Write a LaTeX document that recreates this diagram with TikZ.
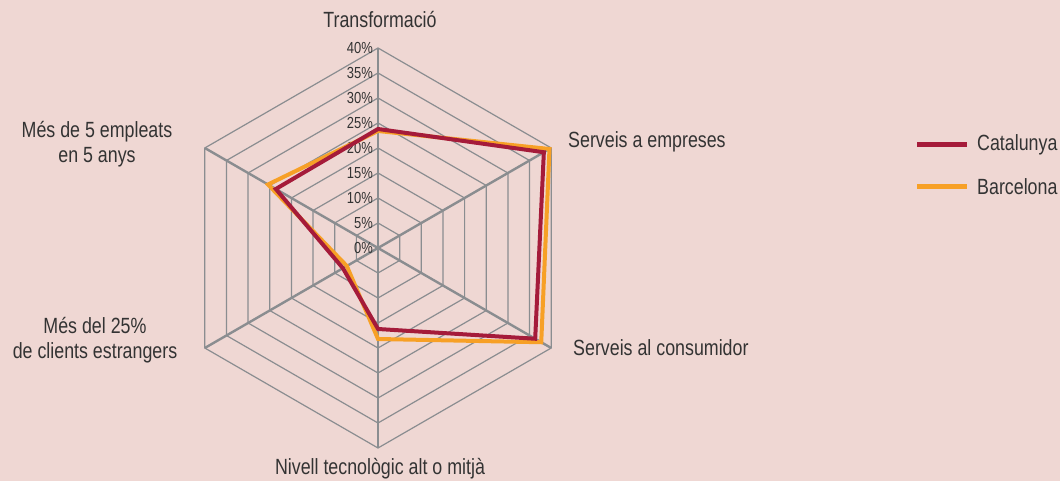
\documentclass[tikz,border=0pt]{standalone}
\usepackage{fontspec}
\setmainfont{Liberation Sans}[FakeStretch=0.81]
\usepackage{tikz}
\usetikzlibrary{positioning}
\definecolor{bgpink}{RGB}{239,215,211}
\definecolor{gridgray}{RGB}{138,141,144}
\definecolor{txtgray}{RGB}{51,51,51}
\definecolor{catred}{RGB}{165,27,58}
\definecolor{bcnorange}{RGB}{247,160,38}

\begin{document}
\begin{tikzpicture}[x=1pt,y=1pt]
      \tikzstyle{lbl}=[font=\fontsize{22}{25}\selectfont,text=txtgray,inner sep=0pt,align=center]
      \tikzstyle{pct}=[font=\fontsize{16}{18}\selectfont,text=txtgray,inner sep=0pt,anchor=east]
      \tikzstyle{ring}=[draw=gridgray,line width=1.2pt]
      \tikzstyle{spoke}=[draw=gridgray,line width=2.4pt]
      \tikzstyle{serie}=[line width=4pt,line join=miter]
      \fill[bgpink] (0,0) rectangle (1060,481);
      \begin{scope}[shift={(378,233)}]
        \coordinate (c) at (0,0);
        \foreach \r in {25,50,...,200}
          \draw[ring] (90:\r) -- (30:\r) -- (-30:\r) -- (-90:\r) -- (210:\r) -- (150:\r) -- cycle;
        \coordinate (transf) at (90:200);
        \coordinate (empreses) at (30:200);
        \coordinate (consum) at (-30:200);
        \coordinate (tecno) at (-90:200);
        \coordinate (estrang) at (210:200);
        \coordinate (empleats) at (150:200);
        \draw[spoke] (c) -- (transf);
        \draw[spoke] (c) -- (empreses);
        \draw[spoke] (c) -- (consum);
        \draw[spoke] (c) -- (tecno);
        \draw[spoke] (c) -- (estrang);
        \draw[spoke] (c) -- (empleats);
        \foreach \p in {0,5,...,40}
          \node[pct] (p\p) at (-5,5*\p) {\p\%};
        % Barcelona under, Catalunya on top
        \draw[serie,draw=bcnorange] (90:117) -- (30:198) -- (-30:188.5) -- (-90:91) -- (210:36) -- (150:127) -- cycle;
        \draw[serie,draw=catred] (90:119) -- (30:191.5) -- (-30:181.5) -- (-90:81) -- (210:40.5) -- (150:118) -- cycle;
      \end{scope}
      \node[lbl] (ltransf) at (380,461) {Transformació};
      \node[lbl,anchor=west] (lempreses) at (568,339) {Serveis a empreses};
      \node[lbl,anchor=west] (lconsum) at (573,133) {Serveis al consumidor};
      \node[lbl] (ltecno) at (380,12) {Nivell tecnològic alt o mitjà};
      \node[lbl] (lempleats) at (97,337) {Més de 5 empleats\\en 5 anys};
      \node[lbl] (lestrang) at (95,140.5) {Més del 25\%\\de clients estrangers};
      % legend
      \node[lbl,anchor=west] (cat) at (977,336) {Catalunya};
      \node[lbl,anchor=west] (bcn) at (977,294) {Barcelona};
      \coordinate[left=10pt of cat] (cat1);
      \coordinate[left=60pt of cat] (cat0);
      \coordinate[left=10pt of bcn] (bcn1);
      \coordinate[left=60pt of bcn] (bcn0);
      \draw[line width=5pt,catred] (cat0) -- (cat1);
      \draw[line width=5pt,bcnorange] (bcn0) -- (bcn1);
    \end{tikzpicture}
\end{document}
